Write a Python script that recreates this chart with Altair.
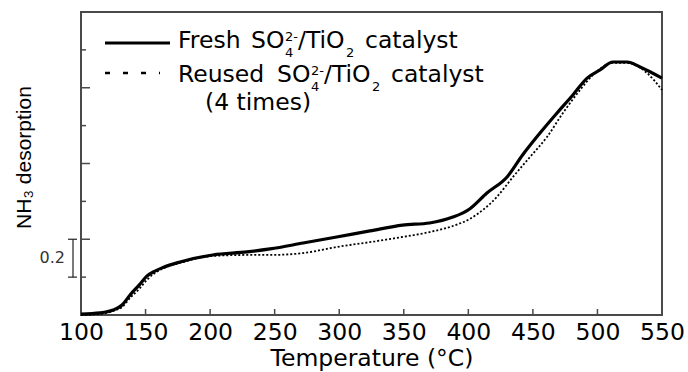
import altair as alt
import pandas as pd

# ---- data ----
fresh_temp = [100, 114.7, 124.8, 131.8, 138, 145, 151, 157.3, 163.5, 176.7, 202, 228.6,
              246.4, 272, 298, 323.8, 349, 370, 388, 401, 414.4, 430, 442, 455.5, 468.7,
              481, 492, 502, 512, 523, 533, 550]
fresh_nh3 = [0.005, 0.011, 0.026, 0.053, 0.106, 0.158, 0.205, 0.232, 0.251, 0.280, 0.317,
             0.333, 0.349, 0.380, 0.412, 0.444, 0.475, 0.486, 0.517, 0.560, 0.644, 0.729,
             0.845, 0.961, 1.067, 1.162, 1.251, 1.294, 1.336, 1.336, 1.310, 1.251]
reused_temp = [100, 114.7, 124.8, 131.8, 138, 145, 151, 157.3, 163.5, 176.7, 202, 228.6,
               246.4, 272, 298, 323.8, 349, 370, 388, 401, 422, 434.6, 447.7, 460.9, 473.3,
               486.5, 496.5, 512, 523, 538.4, 550]
reused_nh3 = [0.0, 0.005, 0.021, 0.042, 0.090, 0.137, 0.185, 0.222, 0.246, 0.275, 0.312,
              0.317, 0.317, 0.327, 0.359, 0.385, 0.412, 0.438, 0.470, 0.507, 0.623, 0.729,
              0.834, 0.940, 1.067, 1.188, 1.267, 1.331, 1.331, 1.278, 1.188]

x_labels = [100, 150, 200, 250, 300, 350, 400, 450, 500, 550]
x_inner_ticks = [150, 200, 250, 300, 350, 400, 450, 500]
y_long_ticks = [0.4, 0.8, 1.2]
y_short_ticks = [0.2, 0.6, 1.0, 1.4]
scale_bar = [0.2, 0.4]

W, H = 581, 303
FRAME = "#4a4a4a"

xaxis = alt.Axis(values=x_labels, labelFlush=False, labelOverlap=False, ticks=False,
                 domain=False, grid=False, labelFontSize=23.5, labelFont="DejaVu Sans",
                 labelColor="black", labelPadding=5, title="Temperature (°C)",
                 titleFont="DejaVu Sans", titleFontSize=23.5, titleFontWeight="normal",
                 titleColor="black", titlePadding=3)
xs = alt.Scale(domain=[100, 550], nice=False, zero=False)
ys = alt.Scale(domain=[0, 1.6], nice=False, zero=False)

def X():
    return alt.X("temp:Q", scale=xs, axis=xaxis)

def Y():
    return alt.Y("nh3:Q", scale=ys, axis=None)

df_f = pd.DataFrame({"temp": fresh_temp, "nh3": fresh_nh3})
df_r = pd.DataFrame({"temp": reused_temp, "nh3": reused_nh3})

fresh = alt.Chart(df_f).mark_line(color="black", strokeWidth=3.2, interpolate="monotone").encode(x=X(), y=Y())
reused = alt.Chart(df_r).mark_line(color="black", strokeWidth=1.8, strokeDash=[2, 2],
                                   interpolate="monotone").encode(x=X(), y=Y())

xt = alt.Chart(pd.DataFrame({"temp": x_inner_ticks})).mark_rule(color=FRAME, strokeWidth=1.5).encode(
    x=X(), y=alt.value(H), y2=alt.value(H - 6))
ytl = alt.Chart(pd.DataFrame({"nh3": y_long_ticks})).mark_rule(color=FRAME, strokeWidth=1.5).encode(
    y=Y(), x=alt.value(0), x2=alt.value(9))
yts = alt.Chart(pd.DataFrame({"nh3": y_short_ticks})).mark_rule(color=FRAME, strokeWidth=1.5).encode(
    y=Y(), x=alt.value(0), x2=alt.value(5))

# scale bar "0.2"
sb_df = pd.DataFrame({"nh3": [scale_bar[0]], "nh3b": [scale_bar[1]]})
sb = alt.Chart(sb_df).mark_rule(color="#222", strokeWidth=1.2).encode(
    y=Y(), y2="nh3b:Q", x=alt.value(-8))
sb_caps = alt.Chart(pd.DataFrame({"nh3": scale_bar})).mark_rule(color="#222", strokeWidth=1.2).encode(
    y=Y(), x=alt.value(-13), x2=alt.value(-4))
sb_txt = alt.Chart(pd.DataFrame({"nh3": [0.3], "t": ["0.2"]})).mark_text(
    align="right", baseline="middle", font="DejaVu Sans", fontSize=16, color="#333").encode(
    y=Y(), x=alt.value(-16), text="t:N")

# y title
ytitle = alt.Chart(pd.DataFrame({"t": ["NH₃ desorption"]})).mark_text(
    angle=270, align="center", baseline="middle", fontSize=21, color="black",
    font="Liberation Sans").encode(
    x=alt.value(-56), y=alt.value(145.5), text="t:N")

# legend line samples
leg1 = alt.Chart(pd.DataFrame({"a": [0]})).mark_rule(color="black", strokeWidth=3).encode(
    x=alt.value(24), x2=alt.value(89), y=alt.value(31))
leg2 = alt.Chart(pd.DataFrame({"a": [0]})).mark_rule(color="black", strokeWidth=2.5, strokeDash=[5, 13]).encode(
    x=alt.value(24), x2=alt.value(79), y=alt.value(61))

# legend text pieces: (text, x, baseline y, size)  -- plot-relative pixels
FS = 23.5
pieces = [
    ("Fresh", 97, 36, FS), ("SO", 170, 36, FS), ("2-", 204, 29, 13), ("4", 204, 45, 13),
    ("/TiO", 217, 36, FS), ("2", 265, 45, 13), ("catalyst", 284, 36, FS),
    ("Reused", 97, 70, FS), ("SO", 196, 70, FS), ("2-", 230, 63, 13), ("4", 230, 79, 13),
    ("/TiO", 243, 70, FS), ("2", 291, 79, 13), ("catalyst", 310, 70, FS),
    ("(4 times)", 124, 98, FS),
]
leg_txt = []
for t, px, py, fs in pieces:
    leg_txt.append(alt.Chart(pd.DataFrame({"t": [t]})).mark_text(
        align="left", baseline="alphabetic", font="DejaVu Sans", fontSize=fs, color="black").encode(
        x=alt.value(px), y=alt.value(py), text="t:N"))

chart = alt.layer(fresh, reused, xt, ytl, yts, sb, sb_caps, sb_txt, ytitle, leg1, leg2, *leg_txt).properties(
    width=W, height=H,
    autosize=alt.AutoSizeParams(type="none"),
    padding={"left": 81, "top": 12, "right": 26, "bottom": 57},
).configure_view(stroke=FRAME, strokeWidth=2)

chart.save("out.html", embed_options={"renderer": "svg", "actions": False})
